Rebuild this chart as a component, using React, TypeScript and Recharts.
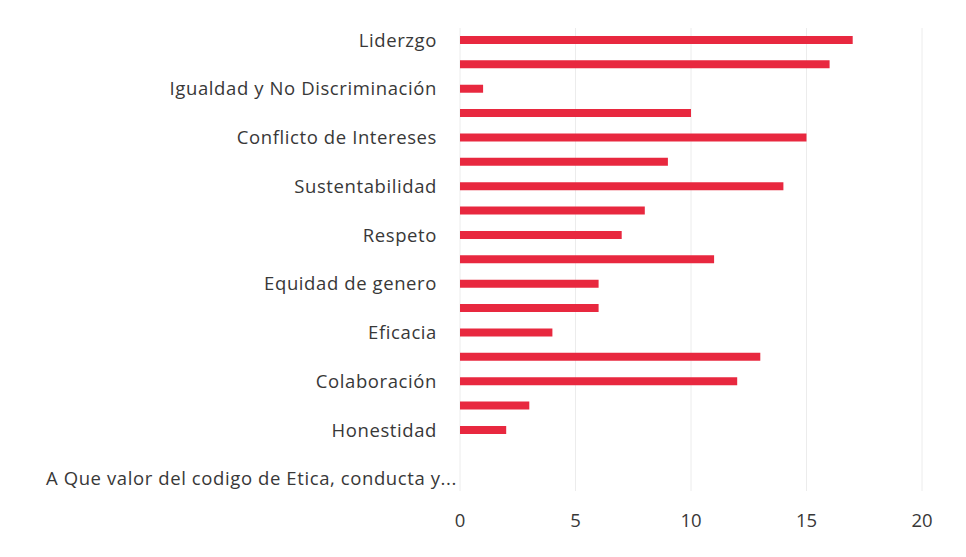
import React from 'react'
import { BarChart, Bar, XAxis, YAxis, CartesianGrid } from 'recharts'

// categories top to bottom (only every other one gets a label on the axis)
const categories = [
  'Liderzgo',
  'Integridad',
  'Igualdad y No Discriminación',
  'Transparencia',
  'Conflicto de Intereses',
  'Legalidad',
  'Sustentabilidad',
  'Responsabilidad',
  'Respeto',
  'Lealtad',
  'Equidad de genero',
  'Imparcialidad',
  'Eficacia',
  'Rendición de Cuentas',
  'Colaboración',
  'Entorno Cultural y Ecológico',
  'Honestidad',
  '',
  'A Que valor del codigo de Etica, conducta y...',
]
const counts = [17, 16, 1, 10, 15, 9, 14, 8, 7, 11, 6, 6, 4, 13, 12, 3, 2, 0, 0]
const xTicks = [0, 5, 10, 15, 20]

const data = categories.map((name, i) => ({ name, value: counts[i] }))

const FONT = '"Open Sans", sans-serif'
const TEXT = '#383838'

const CategoryTick = ({ x, y, payload, index }: any) => {
  if (index % 2 === 1) return null
  const last = index === categories.length - 1
  return (
    <text
      x={last ? x + 20 : x}
      y={y}
      dy="0.35em"
      textAnchor="end"
      fill={TEXT}
      fontSize={18.5}
      letterSpacing={0.6}
      fontFamily={FONT}
    >
      {payload.value}
    </text>
  )
}

const App = () => {
  return (
    <div style={{ position: 'absolute', left: 0, top: 0, background: '#fff' }}>
      <BarChart
        width={966}
        height={557}
        layout="vertical"
        data={data}
        margin={{ top: 28, right: 44, left: 0, bottom: 26 }}
        barCategoryGap={0}
      >
        <CartesianGrid horizontal={false} stroke="#ececec" />
        <XAxis
          type="number"
          domain={[0, 20]}
          ticks={xTicks}
          axisLine={false}
          tickLine={false}
          tickSize={0}
          tickMargin={23}
          height={40}
          tick={{ fill: TEXT, fontSize: 18.5, fontFamily: FONT }}
        />
        <YAxis
          type="category"
          dataKey="name"
          width={460}
          interval={0}
          axisLine={false}
          tickLine={false}
          tickSize={0}
          tickMargin={23}
          tick={<CategoryTick />}
        />
        <Bar dataKey="value" fill="#e8283f" barSize={8} isAnimationActive={false} />
      </BarChart>
    </div>
  )
}

export default App
